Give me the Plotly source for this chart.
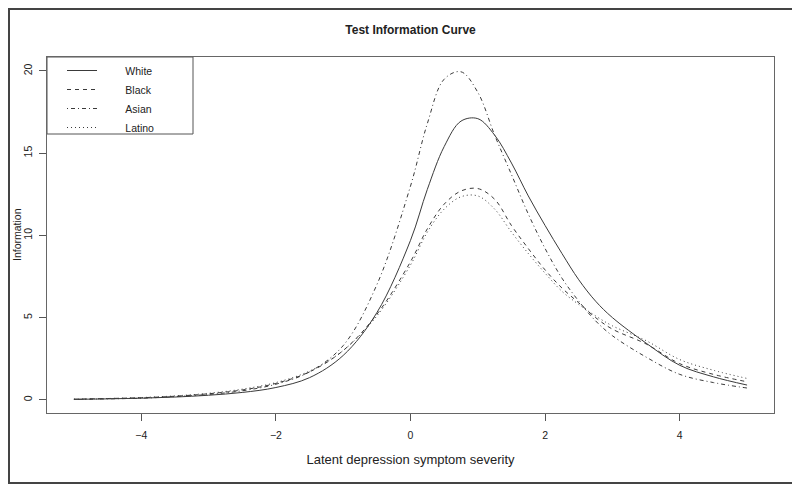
import plotly.graph_objects as go

# latent trait grid and test information per group
theta = [-5, -4.5, -4, -3.5, -3, -2.5, -2, -1.5, -1, -0.5, 0, 0.25, 0.5,
         0.75, 1, 1.25, 1.5, 1.75, 2, 2.25, 2.5, 2.75, 3, 3.5, 4, 4.5, 5]

white = [0.03, 0.06, 0.1, 0.17, 0.28, 0.45, 0.75, 1.35, 2.7, 5.3, 9.7, 12.8,
         15.4, 16.95, 17.1, 16.1, 14.4, 12.4, 10.6, 8.9, 7.3, 6.0, 5.0, 3.45,
         2.1, 1.4, 0.9]
black = [0.04, 0.08, 0.13, 0.22, 0.37, 0.6, 1.0, 1.7, 3.0, 5.2, 8.4, 10.4,
         11.9, 12.7, 12.85, 12.2, 10.6, 9.2, 7.9, 6.8, 5.9, 5.0, 4.3, 3.4,
         2.2, 1.55, 1.1]
asian = [0.03, 0.06, 0.1, 0.2, 0.33, 0.55, 0.95, 1.7, 3.3, 7.0, 13.0, 16.8,
         19.5, 19.95, 18.7, 16.1, 13.7, 11.3, 9.2, 7.4, 6.0, 4.8, 3.9, 2.6,
         1.55, 1.05, 0.72]
latino = [0.04, 0.08, 0.14, 0.24, 0.4, 0.65, 1.05, 1.75, 3.0, 5.1, 8.2, 10.2,
          11.6, 12.35, 12.4, 11.6, 10.2, 8.9, 7.7, 6.6, 5.8, 5.1, 4.5, 3.6,
          2.45, 1.8, 1.3]

groups = ["White", "Black", "Asian", "Latino"]
series = [white, black, asian, latino]
# R lty patterns: solid, dashed, dotdash, dotted
dashes = ["solid", "4px,4px", "1px,3px,4px,3px", "1px,3px"]

font = "Liberation Sans Narrow, Arial Narrow, Liberation Sans, Arial"
pad = "&nbsp;" * 8

# the page body adds an 8px offset, so the figure is 8px smaller
W, H = 792, 476
ml, mt, mr, mb = 39, 49, 26, 71
pw, ph = W - ml - mr, H - mt - mb

fig = go.Figure()
for name, vals, dash in zip(groups, series, dashes):
    fig.add_trace(go.Scatter(x=theta, y=vals, name=pad + name + pad * 3,
                             mode="lines",
                             line=dict(color="#3a3a3a", width=1, dash=dash,
                                       shape="spline")))

axis_style = dict(showgrid=False, zeroline=False, showline=True, mirror=True,
                  linecolor="#666", linewidth=1, ticks="outside", ticklen=7,
                  tickcolor="#555", automargin=False,
                  tickfont=dict(size=10.5, color="#222"))

fig.update_layout(
    width=W, height=H,
    paper_bgcolor="white", plot_bgcolor="white",
    font=dict(family=font, size=10.5, color="#222"),
    margin=dict(l=ml, r=mr, t=mt, b=mb),
    title=dict(text="<b>Test Information Curve</b>", x=0.5, xref="paper",
               y=1 - 22 / H, yanchor="middle", font=dict(size=12)),
    xaxis=dict(range=[-5.4, 5.4], tickvals=[-4, -2, 0, 2, 4],
               ticklabelstandoff=5,
               title=dict(text="Latent depression symptom severity"),
               **axis_style),
    yaxis=dict(range=[-0.8, 20.85], tickvals=[0, 5, 10, 15, 20],
               tickangle=-90, ticklabelstandoff=3, **axis_style),
    legend=dict(x=15 / pw, y=1 + 1 / ph, xanchor="left", yanchor="top",
                bgcolor="rgba(0,0,0,0)", borderwidth=0,
                font=dict(size=10.5), tracegroupgap=0),
)

# y axis title placed near where R puts it
fig.add_annotation(text="Information", textangle=-90, showarrow=False,
                   xref="paper", yref="paper", x=(9 - ml) / pw, y=0.5,
                   xanchor="center", yanchor="middle",
                   font=dict(size=10.5, color="#222"))

# legend frame, as R draws it
fig.add_shape(type="rect", xref="paper", yref="paper",
              x0=0, x1=146 / pw, y0=1 - 77 / ph, y1=1,
              line=dict(color="#555", width=1), fillcolor="white", layer="below")

# outer frame around the whole picture
fig.add_shape(type="rect", xref="paper", yref="paper",
              x0=-(ml - 1) / pw, x1=1 + (mr - 1) / pw,
              y0=-(mb - 1) / ph, y1=1 + (mt - 1) / ph,
              line=dict(color="#444", width=2))

fig.write_html("out.html")
